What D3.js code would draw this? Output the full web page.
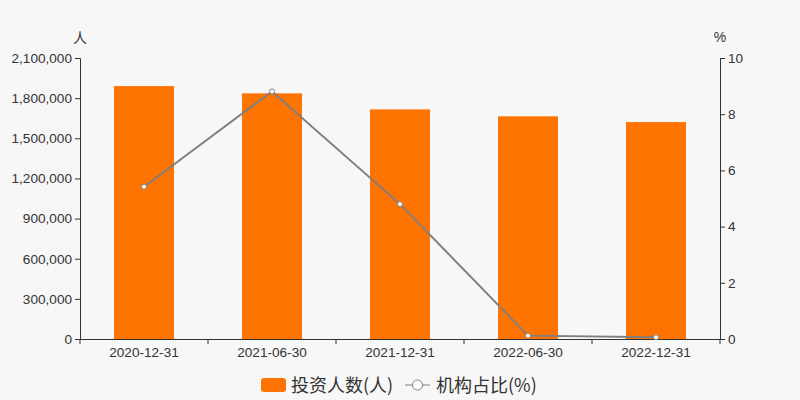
<!DOCTYPE html>
<html>
<head>
<meta charset="utf-8">
<script src="https://cdn.jsdelivr.net/npm/d3@7"></script>
<style>
  body { margin: 0; background: #f7f7f7; }
  svg { display: block; font-family: "Liberation Sans", Arial, sans-serif; }
</style>
</head>
<body>
<svg id="chart" width="800" height="400"></svg>
<script>
const categories = ['2020-12-31', '2021-06-30', '2021-12-31', '2022-06-30', '2022-12-31'];
const investors = [1890000, 1836000, 1716000, 1664000, 1621000];
const instShare = [5.42, 8.81, 4.80, 0.12, 0.06];
const leftTicks = [0, 300000, 600000, 900000, 1200000, 1500000, 1800000, 2100000];
const rightTicks = [0, 2, 4, 6, 8, 10];

const barColor = '#ff7300';
const lineColor = '#7f7f7f';
const textColor = '#333';

const margin = {top: 58, right: 80, bottom: 61, left: 80};
const width = 800, height = 400;

const svg = d3.select('#chart');

const x = d3.scaleBand()
  .domain(categories)
  .range([margin.left, width - margin.right]);

const yLeft = d3.scaleLinear()
  .domain([0, 2100000])
  .range([height - margin.bottom, margin.top]);

const yRight = d3.scaleLinear()
  .domain([0, 10])
  .range([height - margin.bottom, margin.top]);

const styleAxis = (g) => {
  g.selectAll('path, line').attr('stroke', textColor);
  g.selectAll('text').attr('fill', textColor).attr('font-size', 13.6);
};

// bars
svg.append('g')
  .selectAll('rect')
  .data(categories)
  .join('rect')
  .attr('x', d => x(d) + (x.bandwidth() - 60) / 2)
  .attr('width', 60)
  .attr('y', (d, i) => yLeft(investors[i]))
  .attr('height', (d, i) => yLeft(0) - yLeft(investors[i]))
  .attr('fill', barColor);

// axes
svg.append('g')
  .attr('transform', `translate(${margin.left},0)`)
  .call(d3.axisLeft(yLeft).tickValues(leftTicks).tickSize(5).tickPadding(3).tickFormat(d3.format(',')))
  .call(styleAxis);

svg.append('g')
  .attr('transform', `translate(${width - margin.right},0)`)
  .call(d3.axisRight(yRight).tickValues(rightTicks).tickSize(5).tickPadding(3))
  .call(styleAxis);

const xAxis = svg.append('g')
  .attr('transform', `translate(0,${height - margin.bottom})`)
  .call(d3.axisBottom(x).tickSize(0).tickPadding(8))
  .call(styleAxis);

xAxis.selectAll('.sep')
  .data(d3.range(categories.length + 1))
  .join('line')
  .attr('class', 'sep')
  .attr('x1', i => margin.left + i * x.bandwidth())
  .attr('x2', i => margin.left + i * x.bandwidth())
  .attr('y1', 0)
  .attr('y2', 5)
  .attr('stroke', textColor);

// axis titles
svg.append('text')
  .attr('x', margin.left)
  .attr('y', 43)
  .attr('text-anchor', 'middle')
  .attr('font-size', 14)
  .attr('font-family', '"Noto Sans CJK SC", sans-serif')
  .attr('fill', textColor)
  .text('人');

svg.append('text')
  .attr('x', width - margin.right)
  .attr('y', 42)
  .attr('text-anchor', 'middle')
  .attr('font-size', 14)
  .attr('fill', textColor)
  .text('%');

// line
const cx = (d, i) => x(categories[i]) + x.bandwidth() / 2;
svg.append('path')
  .datum(instShare)
  .attr('fill', 'none')
  .attr('stroke', lineColor)
  .attr('stroke-width', 2)
  .attr('d', d3.line().x(cx).y(d => yRight(d)));

svg.append('g')
  .selectAll('circle')
  .data(instShare)
  .join('circle')
  .attr('cx', cx)
  .attr('cy', d => yRight(d))
  .attr('r', 2.5)
  .attr('fill', '#fff')
  .attr('stroke', lineColor)
  .attr('stroke-width', 1);

// legend
const legend = svg.append('g')
  .attr('font-family', '"Noto Sans CJK SC", sans-serif')
  .attr('font-size', 18)
  .attr('fill', textColor);

legend.append('rect')
  .attr('x', 261).attr('y', 378)
  .attr('width', 25).attr('height', 14)
  .attr('rx', 3)
  .attr('fill', barColor);

legend.append('text')
  .attr('x', 291).attr('y', 391.5)
  .text('投资人数(人)');

legend.append('line')
  .attr('x1', 405).attr('x2', 430)
  .attr('y1', 385).attr('y2', 385)
  .attr('stroke', lineColor).attr('stroke-width', 1);

legend.append('circle')
  .attr('cx', 417.5).attr('cy', 385).attr('r', 5)
  .attr('fill', '#fff').attr('stroke', lineColor);

legend.append('text')
  .attr('x', 436).attr('y', 391.5)
  .text('机构占比(%)');
</script>
</body>
</html>
